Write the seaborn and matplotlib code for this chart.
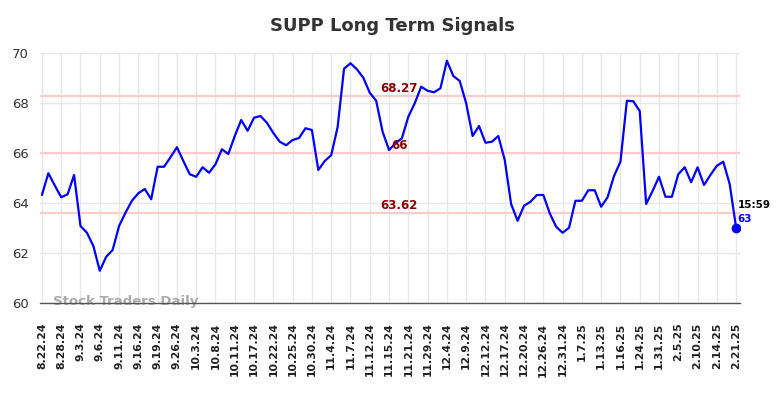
import matplotlib
matplotlib.use("Agg")
import matplotlib.pyplot as plt
import matplotlib.transforms as mtransforms
import seaborn as sns
import numpy as np
import pandas as pd

tick_labels = ["8.22.24", "8.28.24", "9.3.24", "9.6.24", "9.11.24", "9.16.24", "9.19.24",
               "9.26.24", "10.3.24", "10.8.24", "10.11.24", "10.17.24", "10.22.24",
               "10.25.24", "10.30.24", "11.4.24", "11.7.24", "11.12.24", "11.15.24",
               "11.21.24", "11.29.24", "12.4.24", "12.9.24", "12.12.24", "12.17.24",
               "12.20.24", "12.26.24", "12.31.24", "1.7.25", "1.13.25", "1.16.25",
               "1.24.25", "1.31.25", "2.5.25", "2.10.25", "2.14.25", "2.21.25"]

prices = [64.32, 65.19, 64.70, 64.23, 64.35, 65.12, 63.08, 62.81, 62.28, 61.29,
          61.85, 62.12, 63.08, 63.61, 64.09, 64.39, 64.56, 64.15, 65.45, 65.45,
          65.83, 66.23, 65.68, 65.15, 65.05, 65.43, 65.21, 65.55, 66.15, 65.96,
          66.68, 67.32, 66.89, 67.41, 67.48, 67.21, 66.80, 66.45, 66.31, 66.52,
          66.60, 66.99, 66.92, 65.32, 65.68, 65.91, 67.03, 69.37, 69.59, 69.35,
          69.01, 68.41, 68.09, 66.85, 66.12, 66.39, 66.59, 67.45, 67.99, 68.65,
          68.49, 68.43, 68.59, 69.69, 69.08, 68.88, 67.99, 66.68, 67.08, 66.41,
          66.45, 66.68, 65.72, 63.95, 63.29, 63.89, 64.05, 64.32, 64.32, 63.59,
          63.05, 62.81, 63.01, 64.09, 64.09, 64.51, 64.51, 63.85, 64.23, 65.08,
          65.65, 68.09, 68.07, 67.68, 63.96, 64.48, 65.05, 64.25, 64.25, 65.15,
          65.43, 64.83, 65.43, 64.72, 65.12, 65.49, 65.65, 64.75, 63.00]

levels = [68.27, 66.0, 63.62]
level_labels = ["68.27", "66", "63.62"]
last_time = "15:59"
last_label = "63"
title = "SUPP Long Term Signals"
watermark = "Stock Traders Daily"

sns.set_style("white")
plt.rcParams['font.family'] = ['DejaVu Sans']

df = pd.DataFrame({"idx": np.arange(len(prices)), "price": prices})

fig = plt.figure(figsize=(7.84, 3.98), dpi=100)
ax = fig.add_axes([40/784, 1 - 303/398, 700/784, 250/398])

for lv in levels:
    ax.axhline(lv, color="#ffcccc", lw=1.6, zorder=1)

sns.lineplot(data=df, x="idx", y="price", ax=ax, color="#0000ff", lw=1.6, zorder=3)
ax.plot(df["idx"].iloc[-1], df["price"].iloc[-1], "o", color="#0000ff", ms=6, zorder=4)

tick_pos = np.arange(0, len(prices), 3)
ax.set_xticks(tick_pos)
ax.set_xticklabels(tick_labels, rotation=90, fontsize=7.8, fontweight="bold",
                   color="#222222")
ax.set_yticks(np.arange(60, 71, 2))
ax.set_yticklabels([str(v) for v in range(60, 71, 2)], fontsize=9.5, color="#333333")
ax.set_xlim(-0.3, 108.6)
ax.set_ylim(60, 70)
ax.set_xlabel("")
ax.set_ylabel("")
ax.grid(True, color="#e8e8e8", lw=1, zorder=0)
ax.tick_params(axis="x", length=0, pad=14)
ax.tick_params(axis="y", length=0, pad=8)
for s in ["top", "right", "left"]:
    ax.spines[s].set_visible(False)
ax.spines["bottom"].set_color("#555555")
ax.spines["bottom"].set_linewidth(1.0)

xc = 55.6
for lv, lab in zip(levels, level_labels):
    ax.text(xc, lv + 0.29, lab, ha="center", va="center", fontsize=8.5,
            fontweight="bold", color="#8b0000", zorder=5)

ax.text(108.2, 63.92, last_time, ha="left", va="center", fontsize=7.5,
        fontweight="bold", color="#000000", zorder=5)
ax.text(108.2, 63.36, last_label, ha="left", va="center", fontsize=7.5,
        fontweight="bold", color="#0000ff", zorder=5)

ax.text(13/700, 60.06, watermark,
        transform=mtransforms.blended_transform_factory(ax.transAxes, ax.transData),
        ha="left", va="center", fontsize=9.5, fontweight="bold", color="#aaaaaa",
        zorder=2, clip_on=False)

fig.suptitle(title, x=0.5, y=1 - 26/398, va="center", fontsize=13,
             fontweight="bold", color="#333333")

fig.savefig("out.png", dpi=100)
